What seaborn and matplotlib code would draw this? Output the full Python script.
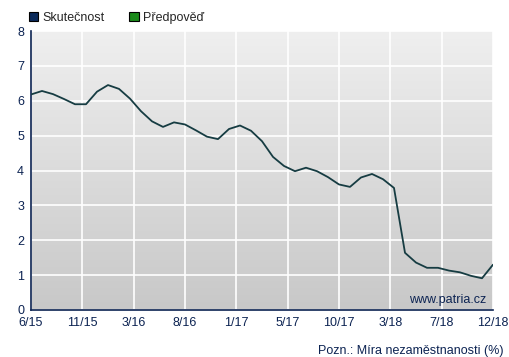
import matplotlib
matplotlib.use('Agg')
import matplotlib.pyplot as plt
from matplotlib.patches import Patch
import numpy as np
import pandas as pd
import seaborn as sns

# monthly unemployment rate, 6/2015 .. 12/2018
rate = [6.18, 6.28, 6.19, 6.05, 5.90, 5.90, 6.26, 6.45, 6.34, 6.06,
        5.70, 5.41, 5.25, 5.38, 5.32, 5.15, 4.97, 4.90, 5.19, 5.29,
        5.14, 4.84, 4.39, 4.13, 3.98, 4.08, 3.98, 3.81, 3.60, 3.53,
        3.80, 3.90, 3.75, 3.50, 1.64, 1.36, 1.21, 1.21, 1.13, 1.08,
        0.98, 0.91, 1.30]
tick_labels = ['6/15', '11/15', '3/16', '8/16', '1/17', '5/17', '10/17', '3/18', '7/18', '12/18']
legend_labels = ['Skutečnost', 'Předpověď']

df = pd.DataFrame({'month': np.arange(len(rate)), 'rate': rate})

sns.set_style('white')
plt.rcParams['font.family'] = ['Liberation Sans', 'DejaVu Sans']
navy = '#0c2352'

fig = plt.figure(figsize=(5.09, 3.57), dpi=100)
ax = fig.add_axes([31/509, 1 - 310/357, 462/509, 279/357])

# vertical grey gradient background
grad = np.linspace(0, 1, 256).reshape(-1, 1)
ax.imshow(grad, extent=[0, 1, 0, 1], transform=ax.transAxes, aspect='auto',
          cmap=matplotlib.colors.LinearSegmentedColormap.from_list('g', ['#efefef', '#c8c8c8']),
          zorder=0)

sns.lineplot(data=df, x='month', y='rate', ax=ax, color='#163c42', linewidth=1.3, zorder=3)

ax.set_xlim(0, len(rate) - 1)
ax.set_ylim(0, 8)
ax.set_xticks(np.linspace(0, len(rate) - 1, len(tick_labels)))
ax.set_xticklabels(tick_labels)
ax.set_yticks(range(0, 9))
ax.grid(True, color='white', linewidth=1.2, zorder=1)
ax.set_axisbelow(True)
ax.set_xlabel('')
ax.set_ylabel('')
for s in ['top', 'right']:
    ax.spines[s].set_visible(False)
for s in ['left', 'bottom']:
    ax.spines[s].set_color(navy)
    ax.spines[s].set_linewidth(1.2)
ax.tick_params(axis='both', colors=navy, labelsize=9, length=4, width=1, direction='out', pad=1)

ax.text(0.985, 0.015, 'www.patria.cz', transform=ax.transAxes, ha='right', va='bottom',
        color=navy, fontsize=9, zorder=4)

fig.text(0.99, 0.0, 'Pozn.: Míra nezaměstnanosti (%)', ha='right', va='bottom',
         color=navy, fontsize=9)

handles = [Patch(facecolor='#0b2a5a', edgecolor='black', linewidth=0.8),
           Patch(facecolor='#1a8a1a', edgecolor='black', linewidth=0.8)]
fig.legend(handles, legend_labels, loc='upper left', bbox_to_anchor=(0.035, 0.998), ncol=2,
           frameon=False, fontsize=9, handlelength=0.75, handleheight=0.75,
           handletextpad=0.3, columnspacing=2.0)

fig.savefig('out.png', dpi=100)
